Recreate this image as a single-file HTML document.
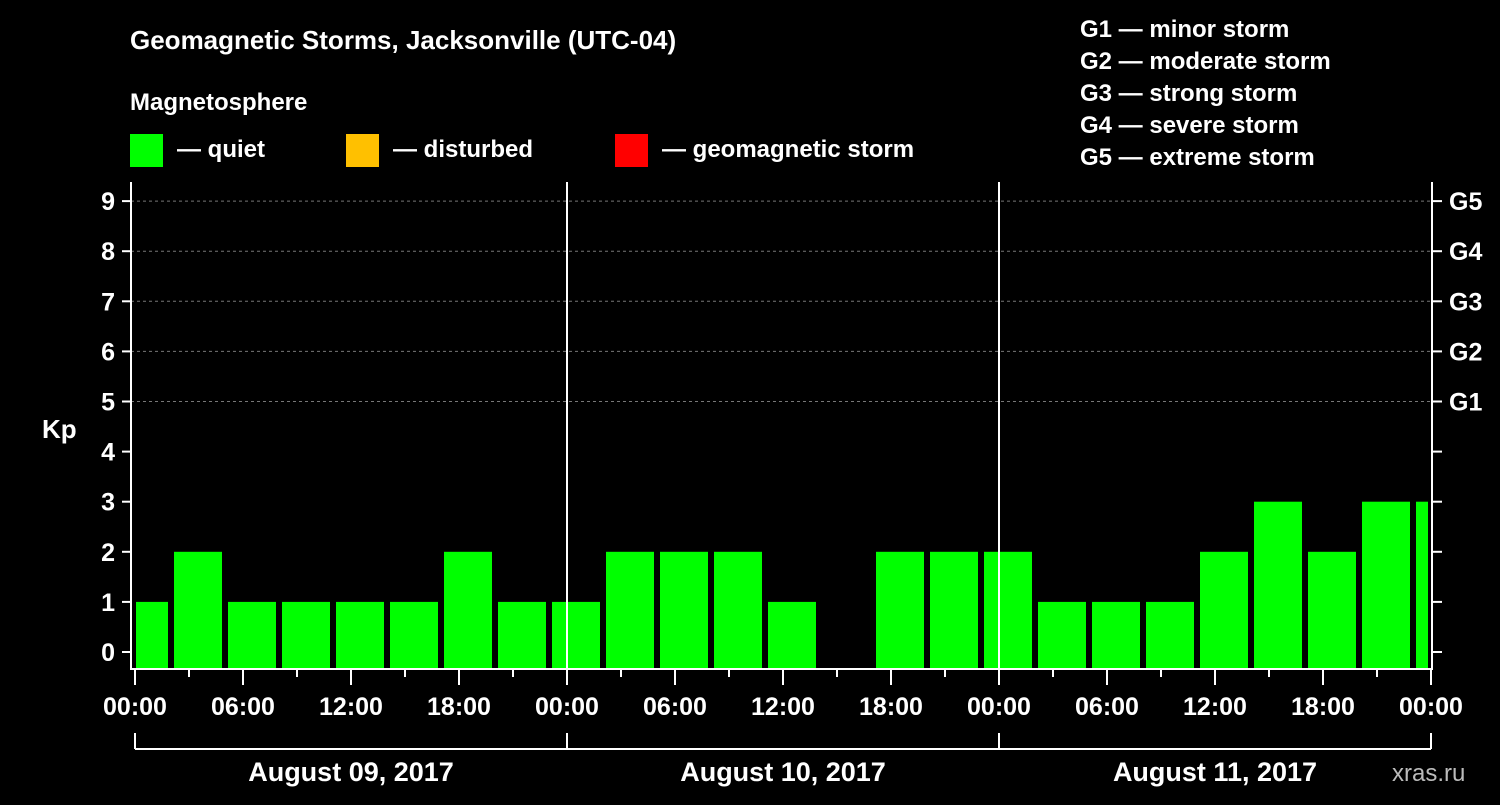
<!DOCTYPE html>
<html><head><meta charset="utf-8"><style>
body{margin:0;background:#000;}
svg text{font-family:"Liberation Sans",Arial,sans-serif;font-weight:bold;fill:#fff;}
</style></head><body>
<svg width="1500" height="800" viewBox="0 0 1500 800">
<rect width="1500" height="800" fill="#000"/>
<text x="130" y="49" font-size="26">Geomagnetic Storms, Jacksonville (UTC-04)</text>
<text x="130" y="110" font-size="24">Magnetosphere</text>
<g><rect x="130" y="134" width="33" height="33" fill="#00ff00"/><text x="177" y="157" font-size="24">— quiet</text></g>
<g><rect x="346" y="134" width="33" height="33" fill="#ffc000"/><text x="393" y="157" font-size="24">— disturbed</text></g>
<g><rect x="615" y="134" width="33" height="33" fill="#ff0000"/><text x="662" y="157" font-size="24">— geomagnetic storm</text></g>
<g font-size="24">
<text x="1080" y="37">G1 — minor storm</text><text x="1080" y="69">G2 — moderate storm</text><text x="1080" y="101">G3 — strong storm</text><text x="1080" y="133">G4 — severe storm</text><text x="1080" y="165">G5 — extreme storm</text></g>
<text x="42" y="438" font-size="26">Kp</text>
<text x="1392" y="781" font-size="24" fill="#bbb" style="fill:#bbb;font-weight:normal">xras.ru</text>
<g id="plot"></g>
</svg>
<script>
const kpValues=[1,2,1,1,1,1,2,1,1,2,2,2,1,null,2,2,2,1,1,1,2,3,2,3,3];
const barStartHours=-1; // first bar starts 23:00 previous day (local)
const yTicks=[0,1,2,3,4,5,6,7,8,9];
const gLabels=["G1","G2","G3","G4","G5"];
const timeLabels=["00:00","06:00","12:00","18:00"];
const dayLabels=["August 09, 2017","August 10, 2017","August 11, 2017"];
const L=131,R=1432,T=182,B=669,X0=135,PXH=18,Y0=652,PXK=50.1;
const xs=h=>X0+h*PXH, ys=k=>Y0-k*PXK;
const ns="http://www.w3.org/2000/svg",g=document.getElementById('plot');
function mk(t,a,p){const e=document.createElementNS(ns,t);for(const k in a)e.setAttribute(k,a[k]);(p||g).appendChild(e);return e;}
// grid
for(let k=5;k<=9;k++){const l=mk('line',{x1:L,x2:R,y1:ys(k),y2:ys(k),stroke:'#777','stroke-dasharray':'3,3','stroke-width':1});

}
// bars
const clip=mk('clipPath',{id:'cp'});mk('rect',{x:136,y:T,width:1292,height:B-T},clip);
const bg=mk('g',{'clip-path':'url(#cp)'});
kpValues.forEach((v,i)=>{if(v==null)return;const h0=barStartHours+i*3;const c=v>=5?'#ff0000':(v>=4?'#ffc000':'#00ff00');
const r=mk('rect',{x:xs(h0)+3,y:ys(v),width:3*PXH-6,height:B-1-ys(v),fill:c},bg);

});
// day separators
for(let d=1;d<3;d++){const l=mk('line',{x1:xs(d*24),x2:xs(d*24),y1:T,y2:B,stroke:'#fff','stroke-width':2});

}
// frame
const f=mk('path',{d:`M${L} ${T}V${B}H${R}V${T}`,fill:'none',stroke:'#fff','stroke-width':2});


// y ticks
yTicks.forEach(k=>{mk('line',{x1:L-9,x2:L,y1:ys(k),y2:ys(k),stroke:'#fff','stroke-width':2});mk('line',{x1:R,x2:R+10,y1:ys(k),y2:ys(k),stroke:'#fff','stroke-width':2});
const t=mk('text',{x:L-16,y:ys(k)+9,'font-size':25,'text-anchor':'end'});t.textContent=k;

});
gLabels.forEach((s,i)=>{const t=mk('text',{x:1449,y:ys(5+i)+9,'font-size':25});t.textContent=s;

});
// x ticks
for(let h=0;h<=72;h+=3){const major=h%6==0;mk('line',{x1:xs(h),x2:xs(h),y1:B,y2:B+(major?16:8),stroke:'#fff','stroke-width':2});}
for(let h=0;h<=72;h+=6){const t=mk('text',{x:xs(h),y:715,'font-size':25,'text-anchor':'middle'});t.textContent=timeLabels[(h/6)%4];

}
// date brackets
mk('line',{x1:xs(0),x2:xs(72),y1:749,y2:749,stroke:'#fff','stroke-width':2});
for(let d=0;d<=3;d++)mk('line',{x1:xs(d*24),x2:xs(d*24),y1:733,y2:749,stroke:'#fff','stroke-width':2});
dayLabels.forEach((s,d)=>{const t=mk('text',{x:xs(d*24+12),y:781,'font-size':27,'text-anchor':'middle'});t.textContent=s;

});
</script>
</body></html>
